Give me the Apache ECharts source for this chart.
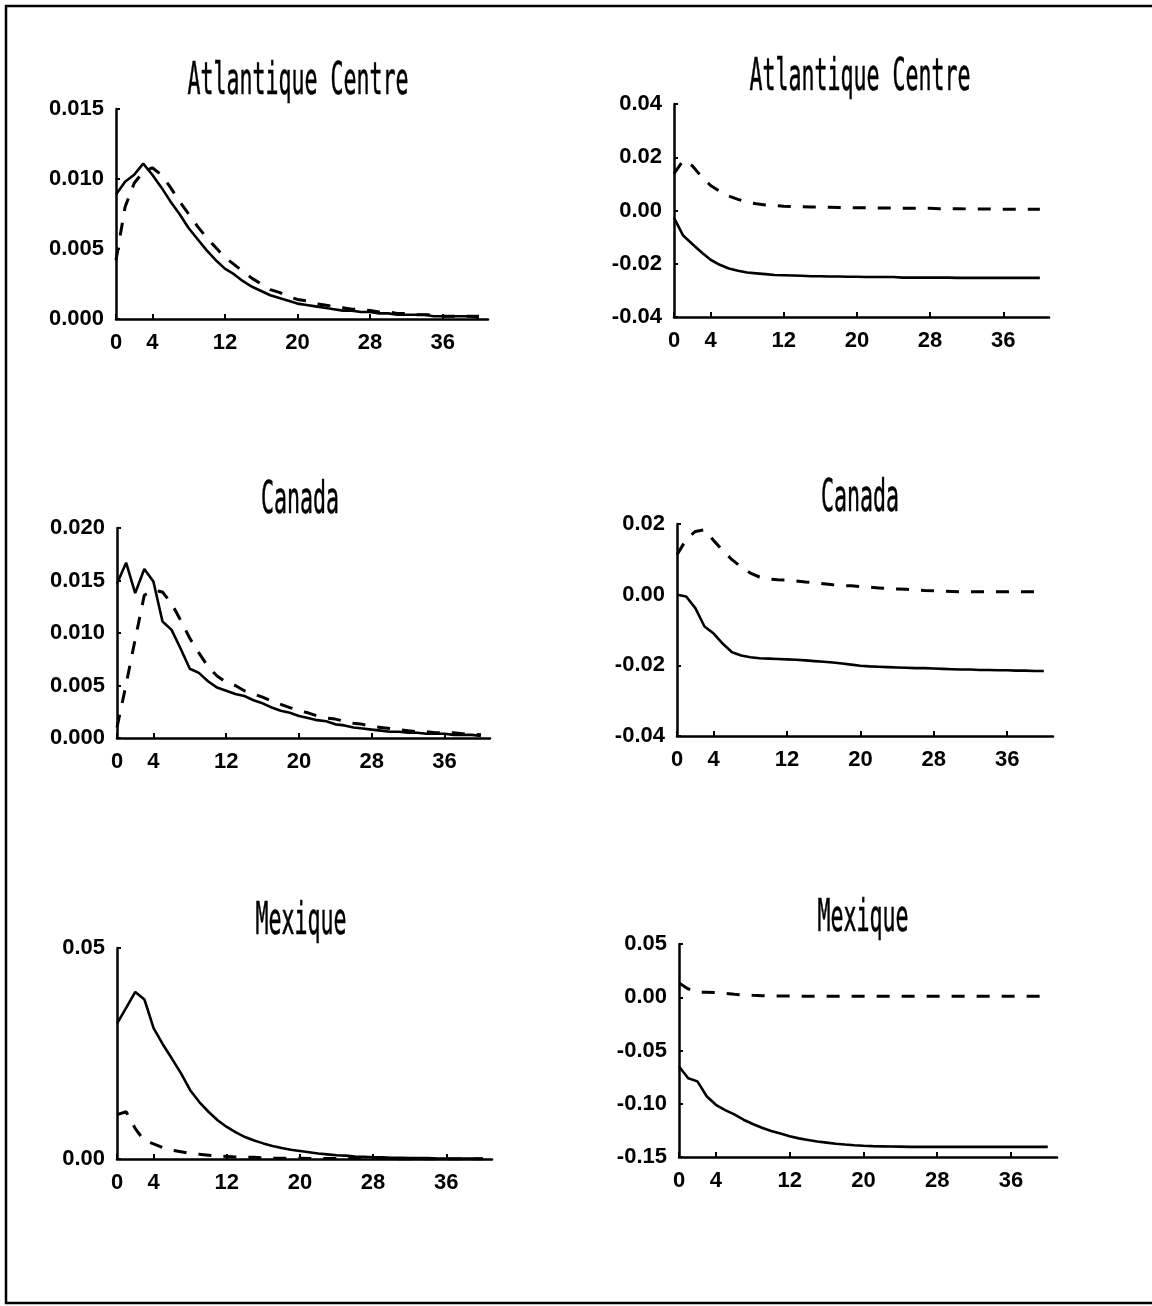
<!DOCTYPE html>
<html>
<head>
<meta charset="utf-8">
<script src="https://cdn.jsdelivr.net/npm/echarts@6/dist/echarts.min.js"></script>
<style>
html,body{margin:0;padding:0;background:#fff;}
#c{width:1152px;height:1306px;}
</style>
</head>
<body>
<div id="c"></div>
<script>
// ---------- DATA ----------
const periods = [0,1,2,3,4,5,6,7,8,9,10,11,12,13,14,15,16,17,18,19,20,21,22,23,24,25,26,27,28,29,30,31,32,33,34,35,36,37,38,39,40];
const xTickLabels = [0,4,12,20,28,36];
const titles = ['Atlantique Centre','Atlantique Centre','Canada','Canada','Mexique','Mexique'];

// Atlantique Centre, left panel
const atlLeftSolid = [0.0089,0.0098,0.0103,0.0111,0.0103,0.0094,0.0084,0.0075,0.0065,0.0057,0.0049,0.0042,0.0036,0.0032,0.0027,0.0023,0.0020,0.0017,0.0015,0.0013,0.0011,0.0010,0.0009,0.0008,0.0007,0.0006,0.0006,0.0005,0.0005,0.0004,0.0004,0.0003,0.0003,0.0003,0.0003,0.0002,0.0002,0.0002,0.0002,0.0002,0.0001];
const atlLeftDashed = [0.0042,0.0080,0.0097,0.0105,0.0108,0.0103,0.0094,0.0084,0.0075,0.0066,0.0058,0.0051,0.0044,0.0039,0.0034,0.0029,0.0025,0.0021,0.0019,0.0016,0.0014,0.0013,0.0011,0.0010,0.0009,0.0008,0.0007,0.0007,0.0006,0.0005,0.0005,0.0004,0.0004,0.0003,0.0003,0.0003,0.0002,0.0002,0.0002,0.0002,0.0002];
// Atlantique Centre, right panel
const atlRightSolid = [-0.0028,-0.0094,-0.0126,-0.0157,-0.0185,-0.0204,-0.0218,-0.0226,-0.0233,-0.0236,-0.0239,-0.0242,-0.0243,-0.0244,-0.0245,-0.0247,-0.0247,-0.0248,-0.0248,-0.0249,-0.0249,-0.0250,-0.0250,-0.0250,-0.0250,-0.0252,-0.0252,-0.0252,-0.0252,-0.0252,-0.0252,-0.0253,-0.0253,-0.0253,-0.0253,-0.0253,-0.0253,-0.0253,-0.0253,-0.0253,-0.0253];
const atlRightDashed = [0.0138,0.0188,0.0168,0.0127,0.0094,0.0072,0.0054,0.0042,0.0031,0.0025,0.0021,0.0019,0.0016,0.0015,0.0014,0.0013,0.0013,0.0012,0.0011,0.0011,0.0010,0.0010,0.0009,0.0009,0.0009,0.0008,0.0008,0.0008,0.0008,0.0007,0.0007,0.0007,0.0006,0.0006,0.0006,0.0005,0.0005,0.0005,0.0005,0.0005,0.0005];
// Canada, left panel
const canLeftSolid = [0.0147,0.0167,0.0138,0.0161,0.0149,0.0111,0.0103,0.0085,0.0066,0.0062,0.0054,0.0048,0.0045,0.0042,0.0040,0.0036,0.0033,0.0029,0.0026,0.0024,0.0021,0.0019,0.0017,0.0016,0.0013,0.0012,0.0010,0.0009,0.0008,0.0007,0.0006,0.0006,0.0005,0.0005,0.0004,0.0004,0.0004,0.0003,0.0003,0.0003,0.0002];
const canLeftDashed = [0.0010,0.0051,0.0094,0.0136,0.0141,0.0139,0.0128,0.0112,0.0095,0.0081,0.0068,0.0059,0.0053,0.0050,0.0045,0.0042,0.0039,0.0035,0.0032,0.0029,0.0026,0.0024,0.0021,0.0019,0.0018,0.0016,0.0014,0.0013,0.0011,0.0010,0.0009,0.0008,0.0007,0.0006,0.0006,0.0005,0.0005,0.0005,0.0004,0.0004,0.0003];
// Canada, right panel
const canRightSolid = [0.0000,-0.0005,-0.0038,-0.0090,-0.0110,-0.0139,-0.0163,-0.0172,-0.0177,-0.0180,-0.0181,-0.0182,-0.0183,-0.0184,-0.0186,-0.0188,-0.0190,-0.0192,-0.0195,-0.0198,-0.0201,-0.0203,-0.0204,-0.0205,-0.0206,-0.0207,-0.0208,-0.0208,-0.0209,-0.0210,-0.0211,-0.0212,-0.0212,-0.0213,-0.0213,-0.0214,-0.0214,-0.0215,-0.0215,-0.0216,-0.0216];
const canRightDashed = [0.0113,0.0156,0.0179,0.0184,0.0153,0.0125,0.0099,0.0078,0.0061,0.0050,0.0044,0.0042,0.0041,0.0039,0.0036,0.0034,0.0031,0.0028,0.0026,0.0025,0.0023,0.0021,0.0019,0.0017,0.0016,0.0015,0.0014,0.0012,0.0011,0.0010,0.0009,0.0008,0.0008,0.0008,0.0008,0.0008,0.0008,0.0008,0.0008,0.0008,0.0008];
// Mexique, left panel
const mexLeftSolid = [0.0321,0.0358,0.0396,0.0378,0.0310,0.0272,0.0238,0.0203,0.0163,0.0135,0.0112,0.0092,0.0076,0.0063,0.0052,0.0044,0.0037,0.0031,0.0026,0.0022,0.0019,0.0016,0.0013,0.0011,0.0009,0.0008,0.0006,0.0005,0.0004,0.0004,0.0003,0.0003,0.0002,0.0002,0.0002,0.0001,0.0001,0.0001,0.0001,0.0001,0.0001];
const mexLeftDashed = [0.0105,0.0112,0.0072,0.0043,0.0036,0.0027,0.0021,0.0017,0.0013,0.0011,0.0009,0.0007,0.0006,0.0005,0.0004,0.0004,0.0003,0.0002,0.0002,0.0002,0.0002,0.0001,0.0001,0.0001,0.0001,0.0001,0.0001,0.0001,0.0001,0.0001,0.0001,0.0000,0.0000,0.0000,0.0000,0.0000,0.0000,0.0000,0.0000,0.0000,0.0000];
// Mexique, right panel
const mexRightSolid = [-0.065,-0.076,-0.079,-0.093,-0.101,-0.106,-0.110,-0.115,-0.119,-0.1225,-0.1255,-0.128,-0.1305,-0.1325,-0.134,-0.1355,-0.1365,-0.1375,-0.1383,-0.139,-0.1395,-0.1398,-0.140,-0.1402,-0.1403,-0.1405,-0.1405,-0.1405,-0.1405,-0.1405,-0.1405,-0.1405,-0.1405,-0.1405,-0.1405,-0.1405,-0.1405,-0.1405,-0.1405,-0.1405,-0.1405];
const mexRightDashed = [0.0133,0.0078,0.0048,0.0047,0.0045,0.0036,0.0028,0.0022,0.0018,0.0015,0.0013,0.0012,0.0011,0.0010,0.0010,0.0010,0.0010,0.0010,0.0010,0.0010,0.0010,0.0010,0.0010,0.0010,0.0010,0.0010,0.0010,0.0010,0.0010,0.0010,0.0010,0.0010,0.0010,0.0010,0.0010,0.0010,0.0010,0.0010,0.0010,0.0010,0.0010];

// y-axis ranges per panel
const yMins = [0, -0.04, 0, -0.04, 0, -0.15];
const yMaxs = [0.015, 0.04, 0.020, 0.02, 0.05, 0.05];
const yIntervals = [0.005, 0.02, 0.005, 0.02, 0.05, 0.05];
const yDecimals = [3, 2, 3, 2, 2, 2];
const solidSeries = [atlLeftSolid, atlRightSolid, canLeftSolid, canRightSolid, mexLeftSolid, mexRightSolid];
const dashedSeries = [atlLeftDashed, atlRightDashed, canLeftDashed, canRightDashed, mexLeftDashed, mexRightDashed];

// ---------- LAYOUT ----------
const LABEL_FONT = "'Liberation Sans Narrow','Liberation Sans',Arial,sans-serif";
const TITLE_FONT = "'DejaVu Sans Mono','Liberation Mono',monospace";
const grids = [
  {left:116, top:109, width:372, height:210},
  {left:674, top:104, width:375, height:213},
  {left:117, top:528, width:373, height:210},
  {left:677, top:524, width:376, height:212},
  {left:117, top:948, width:375, height:211},
  {left:679, top:944, width:378, height:213}
];
// title anchor: horizontal centre and vertical centre of capitals
const titlePos = [
  {x:298, y:82}, {x:860, y:78},
  {x:300, y:501}, {x:860, y:499},
  {x:301, y:922}, {x:863, y:919}
];

const option = {
  animation: false,
  backgroundColor: '#fff',
  grid: grids.map(g => Object.assign({containLabel: false}, g)),
  xAxis: grids.map((g, k) => ({
    type: 'value', gridIndex: k, min: 0, max: 41,
    axisLine: {show: true, onZero: false, lineStyle: {color: '#000', width: 2.5}},
    axisTick: {show: true, inside: true, length: 5, customValues: xTickLabels, lineStyle: {color: '#000', width: 2}},
    axisLabel: {customValues: xTickLabels, fontFamily: LABEL_FONT, fontSize: 22, fontWeight: 'bold', color: '#000', margin: 13},
    splitLine: {show: false}
  })),
  yAxis: grids.map((g, k) => ({
    type: 'value', gridIndex: k, min: yMins[k], max: yMaxs[k], interval: yIntervals[k],
    axisLine: {show: true, onZero: false, lineStyle: {color: '#000', width: 2.5}},
    axisTick: {show: true, inside: true, length: 4, lineStyle: {color: '#000', width: 2}},
    axisLabel: {
      fontFamily: LABEL_FONT, fontSize: 22, fontWeight: 'bold', color: '#000', margin: 12,
      formatter: v => (Math.abs(v) < 1e-12 ? 0 : v).toFixed(yDecimals[k])
    },
    splitLine: {show: false}
  })),
  series: [],
  graphic: [{
    type: 'rect', silent: true,
    shape: {x: 6, y: 6, width: 1160, height: 1297},
    style: {fill: 'none', stroke: '#000', lineWidth: 2.5}
  }].concat(titles.map((t, k) => ({
    type: 'text', silent: true,
    x: titlePos[k].x, y: titlePos[k].y, scaleX: 0.48,
    style: {
      text: t, fill: '#000', stroke: '#000', lineWidth: 0.6,
      fontFamily: TITLE_FONT, fontSize: 45, fontWeight: 'normal',
      align: 'center', verticalAlign: 'middle'
    }
  })))
};

for (let k = 0; k < 6; k++) {
  option.series.push({
    type: 'line', xAxisIndex: k, yAxisIndex: k, symbol: 'none', smooth: false,
    data: periods.map((p, i) => [p, solidSeries[k][i]]),
    lineStyle: {color: '#000', width: 2.6}
  });
  option.series.push({
    type: 'line', xAxisIndex: k, yAxisIndex: k, symbol: 'none', smooth: false,
    data: periods.map((p, i) => [p, dashedSeries[k][i]]),
    lineStyle: {color: '#000', width: 3, type: [13, 12]}
  });
}

const chart = echarts.init(document.getElementById('c'), null, {renderer: 'canvas'});
chart.setOption(option);
</script>
</body>
</html>
